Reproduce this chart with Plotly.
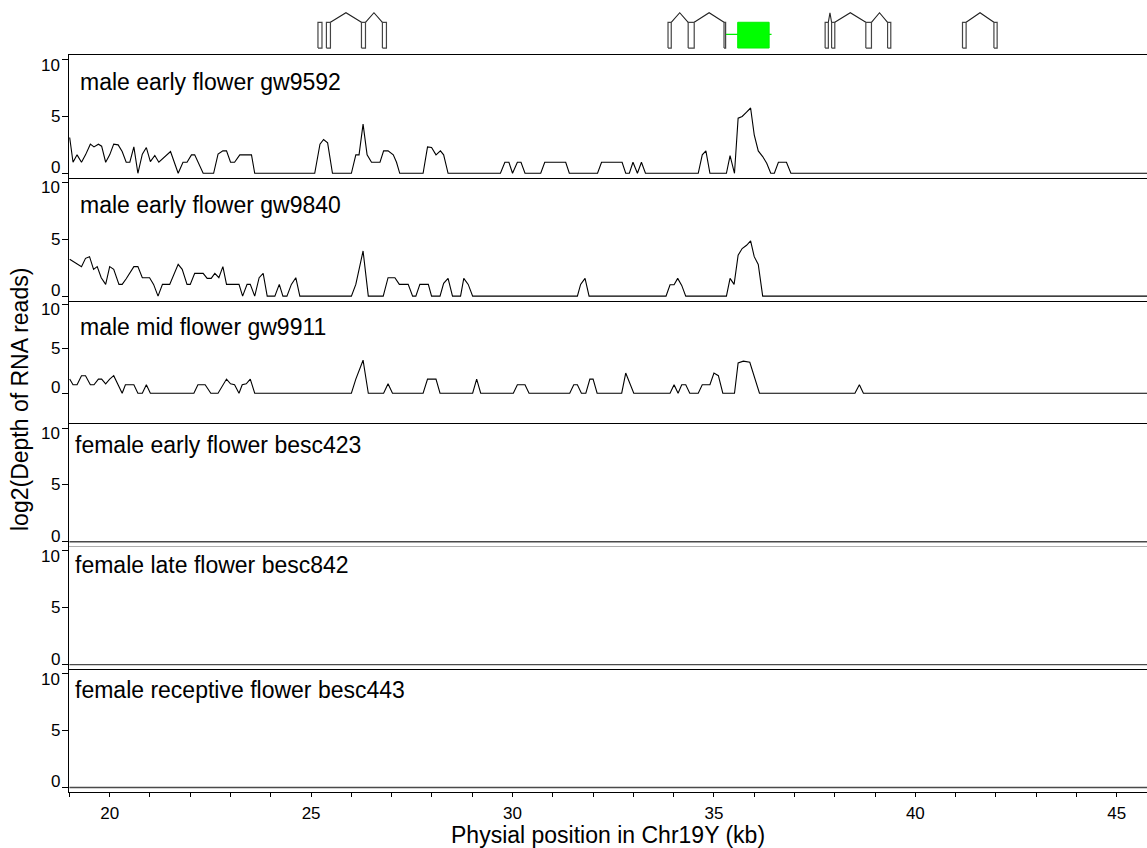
import plotly.graph_objects as go

# ---------------- data (kb, log2 depth) ----------------
p1_pos = [19.007, 19.09, 19.19, 19.30, 19.40, 19.52, 19.61, 19.72, 19.80, 19.90, 20.00, 20.10, 20.21, 20.31,
          20.41, 20.50, 20.60, 20.70, 20.81, 20.91, 21.01, 21.12, 21.22, 21.41, 21.51, 21.70, 21.82, 21.92,
          22.03, 22.11, 22.32, 22.58, 22.69, 22.81, 22.90, 23.00, 23.10, 23.23, 23.52, 23.60, 25.09, 25.22,
          25.31, 25.41, 25.53, 26.00, 26.11, 26.19, 26.29, 26.39, 26.50, 26.71, 26.80, 26.91, 27.04, 27.12,
          27.20, 27.78, 27.89, 27.99, 28.10, 28.21, 28.29, 28.40, 29.70, 29.81, 29.91, 30.00, 30.12, 30.21,
          30.31, 30.70, 30.80, 31.32, 31.41, 32.11, 32.21, 32.72, 32.81, 32.90, 32.99, 33.10, 33.20, 33.30,
          34.61, 34.71, 34.80, 34.90, 35.31, 35.40, 35.51, 35.60, 35.70, 35.81, 35.91, 36.00, 36.10, 36.21,
          36.31, 36.41, 36.50, 36.60, 36.80, 36.91, 45.75]
p1_depth = [3.15, 0.97, 1.62, 0.97, 1.62, 2.56, 2.32, 2.56, 2.38, 0.97, 1.62, 2.56, 2.50, 1.91,
            0.97, 0.97, 2.32, 0.0, 1.68, 2.26, 1.03, 1.56, 0.97, 1.62, 1.91, 0.0, 0.97, 0.97,
            1.62, 1.62, 0.0, 0.0, 1.68, 1.97, 1.97, 0.97, 0.97, 1.62, 1.62, 0.0, 0.0, 2.56,
            2.97, 2.68, 0.0, 0.0, 1.62, 1.62, 4.32, 1.62, 0.97, 0.97, 1.97, 1.97, 1.62, 0.97,
            0.0, 0.0, 2.32, 2.26, 1.62, 1.97, 1.62, 0.0, 0.0, 0.97, 0.97, 0.0, 0.97, 0.97,
            0.0, 0.0, 0.97, 0.97, 0.0, 0.0, 0.97, 0.97, 0.0, 0.0, 0.97, 0.0, 0.97, 0.0,
            0.0, 1.62, 1.97, 0.0, 0.0, 1.56, 0.0, 4.85, 5.0, 5.38, 5.74, 3.38, 1.97, 1.47,
            0.88, 0.0, 0.0, 0.97, 0.97, 0.0, 0.0]

p2_pos = [19.007, 19.30, 19.40, 19.50, 19.60, 19.69, 19.79, 19.90, 20.00, 20.10, 20.23, 20.31, 20.41, 20.60,
          20.70, 20.81, 20.99, 21.09, 21.20, 21.31, 21.49, 21.70, 21.80, 21.92, 22.00, 22.11, 22.32, 22.42,
          22.52, 22.61, 22.71, 22.81, 22.90, 23.21, 23.30, 23.41, 23.49, 23.60, 23.71, 23.81, 23.91, 24.10,
          24.21, 24.30, 24.40, 24.51, 24.62, 24.72, 26.00, 26.11, 26.29, 26.42, 26.79, 26.91, 27.08, 27.19,
          27.41, 27.52, 27.60, 27.70, 27.91, 27.99, 28.20, 28.29, 28.40, 28.51, 28.71, 28.79, 28.90, 29.01,
          31.61, 31.69, 31.80, 31.90, 33.81, 33.91, 34.01, 34.10, 34.20, 34.30, 35.31, 35.40, 35.50, 35.60,
          35.70, 35.81, 35.91, 36.00, 36.10, 36.21, 45.75]
p2_depth = [3.24, 2.59, 3.32, 3.47, 2.35, 2.59, 1.62, 1.03, 2.59, 2.35, 1.03, 1.03, 1.53, 2.59,
            2.59, 1.62, 1.62, 1.03, 0.0, 1.03, 1.03, 2.79, 2.35, 1.03, 1.03, 2.0, 2.0, 1.56,
            1.56, 2.0, 1.62, 2.59, 1.03, 1.03, 0.0, 1.03, 1.03, 0.0, 1.62, 2.0, 0.0, 0.0,
            1.03, 0.0, 0.0, 1.03, 1.62, 0.0, 0.0, 1.03, 3.97, 0.0, 0.0, 1.62, 1.62, 1.03,
            1.03, 0.0, 0.0, 1.03, 1.03, 0.0, 0.0, 1.12, 1.56, 0.0, 0.0, 1.56, 1.03, 0.0,
            0.0, 1.03, 1.56, 0.0, 0.0, 1.0, 1.0, 1.56, 0.94, 0.0, 0.0, 1.56, 1.03, 3.59,
            4.18, 4.47, 4.85, 3.47, 2.79, 0.0, 0.0]

p3_pos = [19.007, 19.09, 19.19, 19.30, 19.40, 19.52, 19.61, 19.72, 19.80, 19.90, 20.00, 20.10, 20.31, 20.39,
          20.60, 20.70, 20.81, 20.91, 21.01, 22.09, 22.19, 22.37, 22.51, 22.69, 22.90, 23.00, 23.10, 23.21,
          23.29, 23.39, 23.49, 23.60, 26.00, 26.11, 26.29, 26.42, 26.80, 26.91, 27.02, 27.78, 27.89, 28.10,
          28.20, 29.01, 29.11, 29.21, 30.02, 30.12, 30.31, 30.41, 31.42, 31.52, 31.61, 31.71, 31.82, 31.92,
          32.00, 32.10, 32.71, 32.81, 33.01, 33.91, 34.01, 34.11, 34.20, 34.30, 34.40, 34.61, 34.71, 34.90,
          35.00, 35.11, 35.22, 35.51, 35.60, 35.73, 35.89, 36.13, 38.50, 38.61, 38.71, 45.75]
p3_depth = [1.59, 0.95, 0.95, 1.97, 1.97, 0.95, 0.95, 1.59, 1.59, 1.06, 1.59, 1.97, 0.0, 0.95,
            0.95, 0.0, 0.0, 0.95, 0.0, 0.0, 0.95, 0.95, 0.0, 0.0, 1.59, 1.06, 0.95, 0.0,
            0.95, 1.06, 1.59, 0.0, 0.0, 1.59, 3.71, 0.0, 0.0, 1.06, 0.0, 0.0, 1.59, 1.59,
            0.0, 0.0, 1.59, 0.0, 0.0, 0.95, 0.95, 0.0, 0.0, 0.95, 0.95, 0.0, 0.0, 1.59,
            1.59, 0.0, 0.0, 2.27, 0.0, 0.0, 0.95, 0.0, 0.95, 0.95, 0.0, 0.0, 0.95, 0.95,
            2.27, 1.97, 0.0, 0.0, 3.41, 3.60, 3.48, 0.0, 0.0, 0.95, 0.0, 0.0]

female_pos = [19.0, 45.75]
f1_depth = [0.0, 0.0]
f2_depth = [0.0, 0.0]
f3_depth = [0.0, 0.0]

panel_names = ["male early flower gw9592", "male early flower gw9840", "male mid flower gw9911",
               "female early flower besc423", "female late flower besc842", "female receptive flower besc443"]

# gene models (kb)
exon_start = [25.17, 25.38, 26.25, 26.77, 33.86, 34.36, 35.25, 37.76, 37.92, 38.77, 39.31, 41.17, 41.95]
exon_end   = [25.27, 25.48, 26.35, 26.87, 33.94, 34.51, 35.29, 37.84, 38.00, 38.91, 39.39, 41.26, 42.03]
intron_start = [25.48, 26.35, 33.94, 34.51, 37.84, 38.00, 38.91, 41.26]
intron_end   = [26.25, 26.77, 34.36, 35.25, 37.92, 38.77, 39.31, 41.95]
focal_box = [35.59, 36.37]
focal_line = [35.30, 36.43]

x_ticks_major = [20, 25, 30, 35, 40, 45]
y_ticks = [0, 5, 10]
y_tick_labels = ["0", "5", "10"]

# ---------------- layout helpers ----------------
W, H = 1147, 848
PAGE_LEFT = 69          # x of plot-area left edge
PAGE_BOTTOM = 792       # y of plot-area bottom
ML = PAGE_LEFT
MB = H - PAGE_BOTTOM
PH = H - MB
PW = W - ML
XR = [18.99, 45.75]

def fy(py):
    return (PAGE_BOTTOM - py) / PH

def fx(px):
    return (px - PAGE_LEFT) / PW

panel_h = 122.83
panel_tops = [55 + panel_h * i for i in range(6)]
y_ranges = [[-0.4, 10.4], [-0.4, 10.4], [-3.4, 10.4], [-0.4, 10.4], [-0.4, 10.4], [-0.4, 10.4]]
label_cy = [82, 205, 327, 445, 565, 690]
label_px = [77.5, 77.5, 77.5, 73, 73, 73]
# the 0 label sits a little above its tick and the 10 label a little below (as in the original)
tick_label_shift = {0: 5.5, 5: 0, 10: -5.5}

FONT = "Liberation Sans, Arial, sans-serif"
TICK_FONT = dict(size=17, family=FONT, color="black")

fig = go.Figure()

series = [(p1_pos, p1_depth), (p2_pos, p2_depth), (p3_pos, p3_depth),
          (female_pos, f1_depth), (female_pos, f2_depth), (female_pos, f3_depth)]

layout = dict(width=W, height=H, autosize=False, margin=dict(l=ML, r=0, t=0, b=MB, pad=0),
              paper_bgcolor="white", plot_bgcolor="white", showlegend=False,
              font=dict(family=FONT, color="black"))
annotations = []

for i, (xs, ys) in enumerate(series):
    k = i + 1
    female = i >= 3
    fig.add_trace(go.Scatter(x=xs, y=ys, mode="lines", xaxis=f"x{k}", yaxis=f"y{k}",
                             line=dict(color="#4a4a4a" if female else "black",
                                       width=1.4 if female else 1.1),
                             hoverinfo="skip"))
    top = panel_tops[i]
    bot = top + panel_h
    last = (i == 5)
    xa = dict(domain=[0, 1], range=XR, anchor=f"y{k}", showline=True, mirror=(i == 0),
              linecolor="black", linewidth=1, showgrid=False, zeroline=False)
    if last:
        xa.update(tickmode="array", tickvals=x_ticks_major, ticks="outside", ticklen=4,
                  tickcolor="black", tickfont=TICK_FONT, ticklabelstandoff=2,
                  minor=dict(dtick=1, tick0=0, ticks="outside", ticklen=4, tickcolor="black"))
    else:
        xa.update(showticklabels=False, ticks="")
    ya = dict(domain=[fy(bot), fy(top)], range=y_ranges[i], anchor=f"x{k}", showline=True,
              mirror=False, linecolor="black", linewidth=1, showgrid=False, zeroline=False,
              tickmode="array", tickvals=y_ticks, ticks="outside", ticklen=6, tickcolor="black",
              showticklabels=False)
    layout["xaxis" if k == 1 else f"xaxis{k}"] = xa
    layout["yaxis" if k == 1 else f"yaxis{k}"] = ya
    # y tick labels, placed on the axis scale
    for v, t in zip(y_ticks, y_tick_labels):
        annotations.append(dict(text=t, xref="paper", yref=f"y{k}", x=fx(61), y=v,
                                xanchor="right", yanchor="middle", yshift=tick_label_shift[v],
                                showarrow=False, font=TICK_FONT, borderpad=0))
    annotations.append(dict(text=panel_names[i], xref="paper", yref="paper",
                            x=fx(label_px[i]), y=fy(label_cy[i]),
                            xanchor="left", yanchor="middle", showarrow=False,
                            font=dict(size=23, family=FONT, color="black")))

# gene track axis
g_top_px, g_bot_px = 9.4, 50.6
layout["xaxis7"] = dict(domain=[0, 1], range=XR, anchor="y7", visible=False)
layout["yaxis7"] = dict(domain=[fy(g_bot_px), fy(g_top_px)], range=[-0.1, 1.5], anchor="x7", visible=False)

# introns (chevrons)
ix, iy = [], []
for s, e in zip(intron_start, intron_end):
    ix += [s, (s + e) / 2, e, None]
    iy += [1.0, 1.37, 1.0, None]
fig.add_trace(go.Scatter(x=ix, y=iy, mode="lines", xaxis="x7", yaxis="y7",
                         line=dict(color="#222222", width=1.1), hoverinfo="skip"))
# exons
ex, ey = [], []
for s, e in zip(exon_start, exon_end):
    ex += [s, e, e, s, s, None]
    ey += [0, 0, 1, 1, 0, None]
fig.add_trace(go.Scatter(x=ex, y=ey, mode="lines", xaxis="x7", yaxis="y7", fill="toself",
                         fillcolor="white", line=dict(color="#444444", width=1.2), hoverinfo="skip"))
# focal gene
fig.add_trace(go.Scatter(x=focal_line, y=[0.53, 0.53], mode="lines", xaxis="x7", yaxis="y7",
                         line=dict(color="#00ee00", width=1.2), hoverinfo="skip"))
fig.add_trace(go.Scatter(x=[focal_box[0], focal_box[1], focal_box[1], focal_box[0], focal_box[0]],
                         y=[0, 0, 1, 1, 0], mode="lines", xaxis="x7", yaxis="y7", fill="toself",
                         fillcolor="#00ff00", line=dict(color="#00ee00", width=1), hoverinfo="skip"))

annotations.append(dict(text="log2(Depth of RNA reads)", xref="paper", yref="paper",
                        x=fx(20), y=fy(400), textangle=-90, xanchor="center",
                        yanchor="middle", showarrow=False,
                        font=dict(size=23, family=FONT, color="black")))
annotations.append(dict(text="Physial position in Chr19Y (kb)", xref="paper", yref="paper",
                        x=0.5, y=fy(835), xanchor="center", yanchor="middle", showarrow=False,
                        borderpad=0, font=dict(size=23, family=FONT, color="black")))
layout["annotations"] = annotations
fig.update_layout(**layout)
# remove the default 8px page margin so the figure fills the window exactly
fig.write_html("out.html", config={"displayModeBar": False},
               post_script="document.body.style.margin='0';document.body.style.overflow='hidden';")
